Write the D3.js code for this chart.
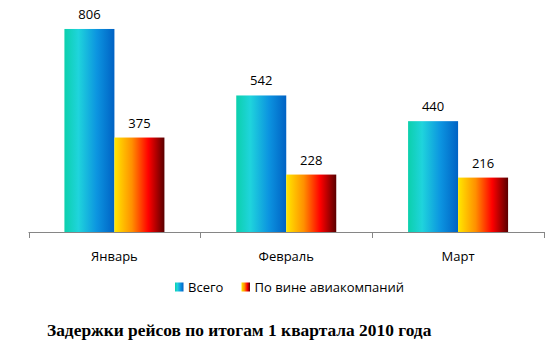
<!DOCTYPE html>
<html>
<head>
<meta charset="utf-8">
<script src="https://cdn.jsdelivr.net/npm/d3@7"></script>
<style>
  body { margin: 0; background: #fff; }
  svg { display: block; }
</style>
</head>
<body>
<svg id="chart"></svg>
<script>
const months = ['Январь', 'Февраль', 'Март'];
const seriesNames = ['Всего', 'По вине авиакомпаний'];
const totalValues = [806, 542, 440];
const airlineValues = [375, 228, 216];
const chartTitle = 'Задержки рейсов по итогам 1 квартала 2010 года';

const W = 551, H = 354;
const svg = d3.select('#chart').attr('width', W).attr('height', H);

const left = 28.5, right = 544, base = 232;
const fontSans = 'Open Sans, sans-serif';

const x0 = d3.scaleBand().domain(months).range([left, right]);
const x1 = d3.scaleBand().domain(seriesNames).range([0, 100]);
const y = d3.scaleLinear().domain([0, 900]).range([base, base - 900 * 0.2519]);

// gradients
const defs = svg.append('defs');
const g1 = defs.append('linearGradient').attr('id', 'gBlue');
[['0%', '#0cd0ac'], ['28%', '#1fd4dc'], ['65%', '#0c94e0'], ['100%', '#0062c4']]
  .forEach(s => g1.append('stop').attr('offset', s[0]).attr('stop-color', s[1]));
const g2 = defs.append('linearGradient').attr('id', 'gRed');
[['0%', '#ffe800'], ['35%', '#ff9000'], ['68%', '#ff0000'], ['100%', '#5a0000']]
  .forEach(s => g2.append('stop').attr('offset', s[0]).attr('stop-color', s[1]));
const fills = ['url(#gBlue)', 'url(#gRed)'];

const data = months.map((m, i) => ({ month: m, values: [totalValues[i], airlineValues[i]] }));

const groups = svg.append('g').selectAll('g')
  .data(data).join('g')
  .attr('transform', d => `translate(${x0(d.month) + (x0.bandwidth() - 100) / 2},0)`);

groups.selectAll('rect')
  .data(d => d.values.map((v, j) => ({ name: seriesNames[j], v, j })))
  .join('rect')
  .attr('x', d => x1(d.name))
  .attr('y', d => y(d.v))
  .attr('width', x1.bandwidth())
  .attr('height', d => base - y(d.v))
  .attr('fill', d => fills[d.j]);

groups.selectAll('text')
  .data(d => d.values.map((v, j) => ({ name: seriesNames[j], v, j })))
  .join('text')
  .attr('x', d => x1(d.name) + x1.bandwidth() / 2)
  .attr('y', d => y(d.v) - 10)
  .attr('text-anchor', 'middle')
  .attr('font-family', fontSans)
  .attr('font-size', 13)
  .attr('fill', '#000')
  .text(d => d.v);

// axis
const ax = svg.append('g');
ax.append('line').attr('x1', left).attr('x2', right).attr('y1', base + 0.5).attr('y2', base + 0.5)
  .attr('stroke', '#868686').attr('stroke-width', 1);
const ticks = months.map(m => x0(m)).concat([right]);
ax.selectAll('.tk').data(ticks).join('line')
  .attr('x1', d => Math.round(d) + 0.5).attr('x2', d => Math.round(d) + 0.5)
  .attr('y1', base).attr('y2', base + 6)
  .attr('stroke', '#868686');
ax.selectAll('.lb').data(months).join('text')
  .attr('x', d => x0(d) + x0.bandwidth() / 2)
  .attr('y', 261)
  .attr('text-anchor', 'middle')
  .attr('font-family', fontSans)
  .attr('font-size', 13)
  .text(d => d);

// legend
const legendX = [175, 241.5];
const lg = svg.append('g').selectAll('g').data(seriesNames).join('g')
  .attr('transform', (d, i) => `translate(${legendX[i]},282.5)`);
lg.append('rect').attr('width', 8.5).attr('height', 9).attr('fill', (d, i) => fills[i]);
lg.append('text').attr('x', 13).attr('y', 9)
  .attr('font-family', fontSans).attr('font-size', 13)
  .text(d => d);

// title
svg.append('text')
  .attr('x', 47).attr('y', 336)
  .attr('font-family', 'Liberation Serif, serif')
  .attr('font-weight', 'bold')
  .attr('font-size', 17.4)
  .text(chartTitle);
</script>
</body>
</html>
